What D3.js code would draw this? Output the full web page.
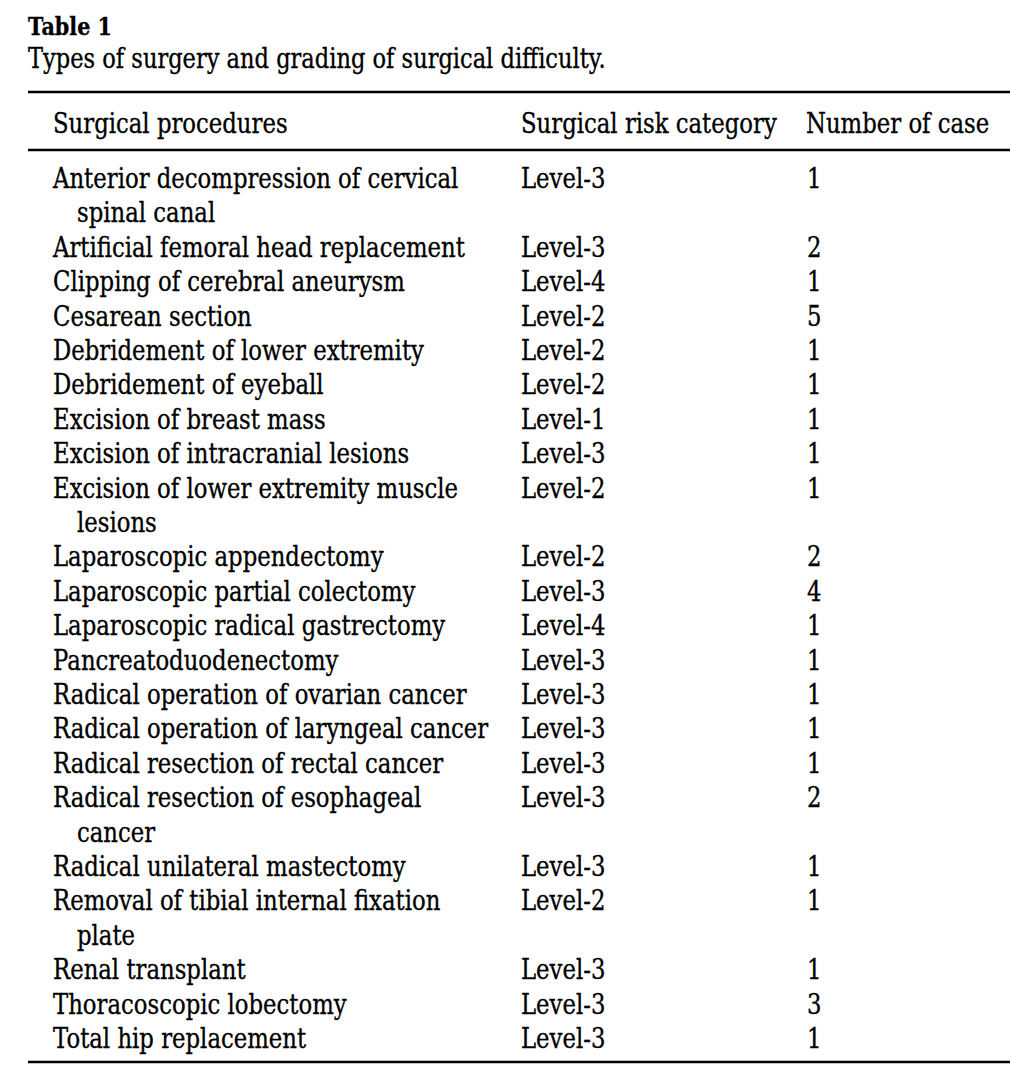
<!DOCTYPE html>
<html><head><meta charset="utf-8">
<script src="https://cdn.jsdelivr.net/npm/d3@7"></script>
<style>html,body{margin:0;padding:0;background:#fff;}</style>
</head><body>
<svg id="c" width="1022" height="1074"></svg>
<script>
const title = "Table 1";
const caption = "Types of surgery and grading of surgical difficulty.";
const headers = ["Surgical procedures", "Surgical risk category", "Number of case"];
const procedures = [
  "Anterior decompression of cervical\nspinal canal",
  "Artificial femoral head replacement",
  "Clipping of cerebral aneurysm",
  "Cesarean section",
  "Debridement of lower extremity",
  "Debridement of eyeball",
  "Excision of breast mass",
  "Excision of intracranial lesions",
  "Excision of lower extremity muscle\nlesions",
  "Laparoscopic appendectomy",
  "Laparoscopic partial colectomy",
  "Laparoscopic radical gastrectomy",
  "Pancreatoduodenectomy",
  "Radical operation of ovarian cancer",
  "Radical operation of laryngeal cancer",
  "Radical resection of rectal cancer",
  "Radical resection of esophageal\ncancer",
  "Radical unilateral mastectomy",
  "Removal of tibial internal fixation\nplate",
  "Renal transplant",
  "Thoracoscopic lobectomy",
  "Total hip replacement"
];
const levels = ["Level-3","Level-3","Level-4","Level-2","Level-2","Level-2","Level-1","Level-3","Level-2","Level-2","Level-3","Level-4","Level-3","Level-3","Level-3","Level-3","Level-3","Level-3","Level-2","Level-3","Level-3","Level-3"];
const cases = [1,2,1,5,1,1,1,1,1,2,4,1,1,1,1,1,2,1,1,1,3,1];

const svg = d3.select("#c");
const FONT = "'DejaVu Serif', serif";
const K = 1.2; // vertical stretch relative to width

function fitSize(str, target, weight) {
  const t = svg.append("text").attr("font-family", FONT).attr("font-size", 100)
    .attr("font-weight", weight || "normal").text(str);
  const w = t.node().getComputedTextLength();
  t.remove();
  return 100 * target / w;
}
const bodySize = fitSize("Artificial femoral head replacement", 412);
const capSize = fitSize(caption, 578);
const titleSize = fitSize(title, 84, "bold");

function put(str, px, py, size, weight) {
  return svg.append("text")
    .attr("transform", `translate(${px},${py}) scale(${1 / K},1)`)
    .attr("font-family", FONT).attr("font-size", size * K)
    .attr("font-weight", weight || "normal")
    .attr("fill", "#000").attr("stroke", "#000").attr("stroke-width", 0.35)
    .text(str);
}

const rows = [];
let line = 0;
procedures.forEach((p, i) => {
  const parts = p.split("\n");
  rows.push({parts, level: levels[i], n: cases[i], line});
  line += parts.length;
});
const nLines = line;

const y = d3.scaleLinear().domain([0, nLines - 1]).range([188, 1048]);
const x = d3.scaleOrdinal().domain([0,1,2]).range([53, 521, 806]);
const indent = 24;

put(title, 28, 35, titleSize, "bold");
put(caption, 28, 68, capSize);

const rules = [92, 150, 1062];
svg.selectAll("line.rule").data(rules).join("line").attr("class", "rule")
  .attr("x1", 28).attr("x2", 1010).attr("y1", d => d).attr("y2", d => d)
  .attr("stroke", "#000").attr("stroke-width", 2.6);

headers.forEach((h, i) => put(h, x(i), 133, bodySize));

rows.forEach(r => {
  r.parts.forEach((t, k) => put(t, x(0) + (k ? indent : 0), y(r.line + k), bodySize));
  put(r.level, x(1), y(r.line), bodySize);
  put(String(r.n), x(2) + 1, y(r.line), bodySize);
});
</script>
</body></html>
